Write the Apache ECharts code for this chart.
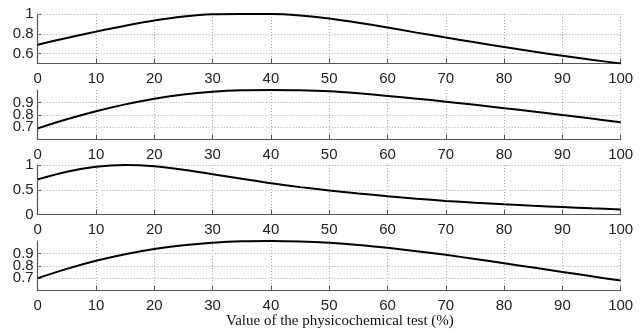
<!DOCTYPE html>
<html>
<head>
<meta charset="utf-8">
<script src="https://cdn.jsdelivr.net/npm/echarts@6/dist/echarts.min.js"></script>
<style>
  html, body { margin: 0; padding: 0; background: #fff; }
  #chart { width: 643px; height: 333px; }
</style>
</head>
<body>
<div id="chart"></div>
<script>
// Test value (%) sampled every 5 points
const testValues = [0,5,10,15,20,25,30,35,40,45,50,55,60,65,70,75,80,85,90,95,100];

// Membership curves, one per panel (top to bottom)
const curve1 = [0.690,0.758,0.822,0.882,0.935,0.975,0.997,1.0,1.0,0.985,0.955,0.912,0.863,0.812,0.762,0.714,0.667,0.621,0.578,0.538,0.5];
const curve2 = [0.690,0.763,0.828,0.884,0.930,0.963,0.985,0.997,1.0,0.998,0.990,0.973,0.952,0.930,0.906,0.880,0.853,0.826,0.798,0.769,0.740];
const curve3 = [0.710,0.865,0.965,1.0,0.975,0.905,0.815,0.722,0.630,0.553,0.485,0.425,0.370,0.320,0.275,0.237,0.205,0.176,0.150,0.125,0.103];
const curve4 = [0.700,0.775,0.840,0.893,0.935,0.965,0.985,0.997,1.0,0.996,0.985,0.968,0.945,0.918,0.888,0.855,0.820,0.785,0.750,0.715,0.680];

// Y tick labels per panel
const yTicks1 = [0.6, 0.8, 1];
const yTicks2 = [0.7, 0.8, 0.9];
const yTicks3 = [0, 0.5, 1];
const yTicks4 = [0.7, 0.8, 0.9];

// X tick labels shared by all panels
const xTicks = [0,10,20,30,40,50,60,70,80,90,100];

const xTitle = 'Value of the physicochemical test (%)';

const panels = [
  { data: curve1, ticks: yTicks1, min: 0.5, max: 1, interval: 0.1, top: 14 },
  { data: curve2, ticks: yTicks2, min: 0.6, max: 1, interval: 0.1, top: 90 },
  { data: curve3, ticks: yTicks3, min: 0,   max: 1, interval: 0.5, top: 165 },
  { data: curve4, ticks: yTicks4, min: 0.6, max: 1, interval: 0.1, top: 241 }
];

const panelHeight = 49.5;
const axisColor = '#555';
const gridColor = '#aaa';
const tickFont = 'Liberation Sans, Arial, sans-serif';

const grids = [], xAxes = [], yAxes = [], series = [];

panels.forEach((p, i) => {
  grids.push({ left: 37.7, right: 22.3, top: p.top, height: panelHeight });
  xAxes.push({
    type: 'value', gridIndex: i, min: 0, max: 100, interval: 10,
    axisLine: { lineStyle: { color: axisColor, width: 1.2 } },
    axisTick: { inside: true, length: 5, lineStyle: { color: axisColor } },
    axisLabel: {
      color: '#222', fontSize: 15, fontFamily: tickFont, margin: 8,
      customValues: xTicks
    },
    splitLine: { show: true, lineStyle: { color: gridColor, type: [1, 2], width: 1 } }
  });

  // One y axis per labelled tick so closely spaced labels all stay visible;
  // the first one carries the axis line and the series.
  const mainIndex = yAxes.length;
  p.ticks.forEach((t, k) => {
    yAxes.push({
      type: 'value', gridIndex: i, position: 'left', offset: 0,
      min: p.min, max: p.max, interval: p.interval,
      axisLine: { show: k === 0, onZero: false, lineStyle: { color: axisColor, width: 1.2 } },
      axisTick: { show: true, inside: true, length: 4, lineStyle: { color: axisColor }, customValues: [t] },
      axisLabel: {
        color: '#222', fontSize: 15, fontFamily: tickFont, margin: 4,
        customValues: [t],
        formatter: v => String(Math.round(v * 10) / 10)
      },
      splitLine: { show: false }
    });
  });

  series.push({
    type: 'line', xAxisIndex: i, yAxisIndex: mainIndex,
    data: testValues.map((x, k) => [x, p.data[k]]),
    showSymbol: false, smooth: 0.3,
    lineStyle: { color: '#000', width: 2 },
    z: 5,
    markLine: {
      silent: true, symbol: 'none', animation: false,
      label: { show: false },
      lineStyle: { color: gridColor, type: [1, 2], width: 1 },
      data: p.ticks.filter(t => t > p.min).map(t => ({ yAxis: t }))
    }
  });
});

const chart = echarts.init(document.getElementById('chart'), null, { renderer: 'canvas' });
chart.setOption({
  animation: false,
  backgroundColor: '#fff',
  grid: grids,
  xAxis: xAxes,
  yAxis: yAxes,
  series: series,
  graphic: [{
    type: 'text', left: 226, top: 314,
    style: { text: xTitle, font: '15px "Liberation Serif", "Times New Roman", serif', fill: '#111' }
  }]
});
</script>
</body>
</html>
